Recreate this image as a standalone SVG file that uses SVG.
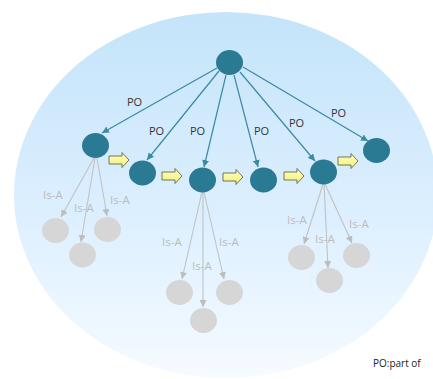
<svg xmlns="http://www.w3.org/2000/svg" width="433" height="379" viewBox="0 0 433 379">
  <defs>
    <linearGradient id="bg" x1="0" y1="0" x2="0" y2="1">
      <stop offset="0" stop-color="#c4e4f9"/>
      <stop offset="0.55" stop-color="#dcefff"/>
      <stop offset="1" stop-color="#f6fbff"/>
    </linearGradient>
    <linearGradient id="yel" x1="0" y1="0" x2="0" y2="1">
      <stop offset="0" stop-color="#ffffc0"/>
      <stop offset="1" stop-color="#f2f07a"/>
    </linearGradient>
    <marker id="headTeal" viewBox="0 0 10 10" refX="10" refY="5" markerWidth="7" markerHeight="7" markerUnits="userSpaceOnUse" orient="auto">
      <path d="M0,0 L10,5 L0,10 z" fill="#3a8aa2"/>
    </marker>
    <marker id="headGray" viewBox="0 0 10 10" refX="10" refY="5" markerWidth="7" markerHeight="7" markerUnits="userSpaceOnUse" orient="auto">
      <path d="M0,0 L10,5 L0,10 z" fill="#bdbdbd"/>
    </marker>
    <path id="blk" d="M0,-4 h13 v-3.5 l7,7.5 l-7,7.5 v-3.5 h-13 z"/>
  </defs>
  <style>
    .part { fill: #2b7a94; }
    .kind { fill: #d6d6d6; }
    .po { stroke: #3a8aa2; stroke-width: 1.2; fill: none; marker-end: url(#headTeal); }
    .isa { stroke: #c2c2c2; stroke-width: 1.1; fill: none; marker-end: url(#headGray); }
    .lblPO { font-family: "Open Sans", "Liberation Sans", sans-serif; font-size: 11px; fill: #333333; }
    .lblIsa { font-family: "Open Sans", "Liberation Sans", sans-serif; font-size: 11.5px; fill: #bcbcbc; }
    .seq { fill: url(#yel); stroke: #55553a; stroke-width: 0.8; }
    .note { font-family: "Open Sans", "Liberation Sans", sans-serif; font-size: 10px; fill: #222222; }
  </style>

  <!-- backdrop -->
  <ellipse cx="226" cy="195" rx="212" ry="183" fill="url(#bg)"/>

  <!-- connectors -->
  <g id="connectors">
    <line class="po" x1="217" y1="68" x2="102" y2="133"/>
    <line class="po" x1="219" y1="71" x2="147" y2="160"/>
    <line class="po" x1="226" y1="75" x2="204" y2="167"/>
    <line class="po" x1="234" y1="75" x2="258" y2="167"/>
    <line class="po" x1="240" y1="72" x2="315" y2="161"/>
    <line class="po" x1="243" y1="67" x2="368" y2="141"/>

    <line class="isa" x1="94" y1="158" x2="61" y2="217"/>
    <line class="isa" x1="95" y1="158" x2="81" y2="242"/>
    <line class="isa" x1="97" y1="158" x2="107" y2="216"/>

    <line class="isa" x1="202" y1="192" x2="182" y2="279"/>
    <line class="isa" x1="203" y1="192" x2="203" y2="307"/>
    <line class="isa" x1="204" y1="192" x2="224" y2="279"/>

    <line class="isa" x1="323" y1="184" x2="304" y2="244"/>
    <line class="isa" x1="324" y1="184" x2="328" y2="268"/>
    <line class="isa" x1="325" y1="184" x2="352" y2="243"/>

    <text class="lblPO" x="127" y="106">PO</text>
    <text class="lblPO" x="149" y="135">PO</text>
    <text class="lblPO" x="190" y="135">PO</text>
    <text class="lblPO" x="254" y="135">PO</text>
    <text class="lblPO" x="289" y="127">PO</text>
    <text class="lblPO" x="331" y="117">PO</text>

    <text class="lblIsa" x="43" y="199">Is-A</text>
    <text class="lblIsa" x="74" y="212">Is-A</text>
    <text class="lblIsa" x="110" y="204">Is-A</text>
    <text class="lblIsa" x="162" y="246">Is-A</text>
    <text class="lblIsa" x="192" y="270">Is-A</text>
    <text class="lblIsa" x="219" y="246">Is-A</text>
    <text class="lblIsa" x="287" y="224">Is-A</text>
    <text class="lblIsa" x="315" y="243">Is-A</text>
    <text class="lblIsa" x="349" y="228">Is-A</text>
  </g>

  <!-- sequence arrows between parts -->
  <g id="sequence">
    <use href="#blk" class="seq" x="109" y="160"/>
    <use href="#blk" class="seq" x="162" y="176"/>
    <use href="#blk" class="seq" x="223" y="177"/>
    <use href="#blk" class="seq" x="284" y="176"/>
    <use href="#blk" class="seq" x="338" y="161"/>
  </g>

  <!-- whole -->
  <g id="root"><ellipse class="part" cx="229.5" cy="62.5" rx="13.5" ry="12.5"/></g>

  <!-- parts -->
  <g id="part1"><ellipse class="part" cx="95.5" cy="145.5" rx="13.5" ry="12.5"/></g>
  <g id="part2"><ellipse class="part" cx="142.5" cy="173" rx="13.5" ry="12.5"/></g>
  <g id="part3"><ellipse class="part" cx="202.5" cy="180" rx="13.5" ry="12.5"/></g>
  <g id="part4"><ellipse class="part" cx="263.5" cy="180" rx="13.5" ry="12.5"/></g>
  <g id="part5"><ellipse class="part" cx="323.5" cy="172" rx="13.5" ry="12.5"/></g>
  <g id="part6"><ellipse class="part" cx="376.5" cy="150.5" rx="13.5" ry="12.5"/></g>

  <!-- kinds -->
  <g id="kind1a"><ellipse class="kind" cx="55.5" cy="230.5" rx="13.5" ry="12.5"/></g>
  <g id="kind1b"><ellipse class="kind" cx="82.5" cy="255" rx="13.5" ry="12.5"/></g>
  <g id="kind1c"><ellipse class="kind" cx="107.5" cy="229.5" rx="13.5" ry="12.5"/></g>
  <g id="kind3a"><ellipse class="kind" cx="179.5" cy="292.5" rx="13.5" ry="12.5"/></g>
  <g id="kind3b"><ellipse class="kind" cx="203.5" cy="320.5" rx="13.5" ry="12.5"/></g>
  <g id="kind3c"><ellipse class="kind" cx="229.5" cy="292.5" rx="13.5" ry="12.5"/></g>
  <g id="kind5a"><ellipse class="kind" cx="301.5" cy="257.5" rx="13.5" ry="12.5"/></g>
  <g id="kind5b"><ellipse class="kind" cx="329.5" cy="280.5" rx="13.5" ry="12.5"/></g>
  <g id="kind5c"><ellipse class="kind" cx="356.5" cy="255.5" rx="13.5" ry="12.5"/></g>

  <text class="note" x="373" y="367">PO:part of</text>
</svg>
